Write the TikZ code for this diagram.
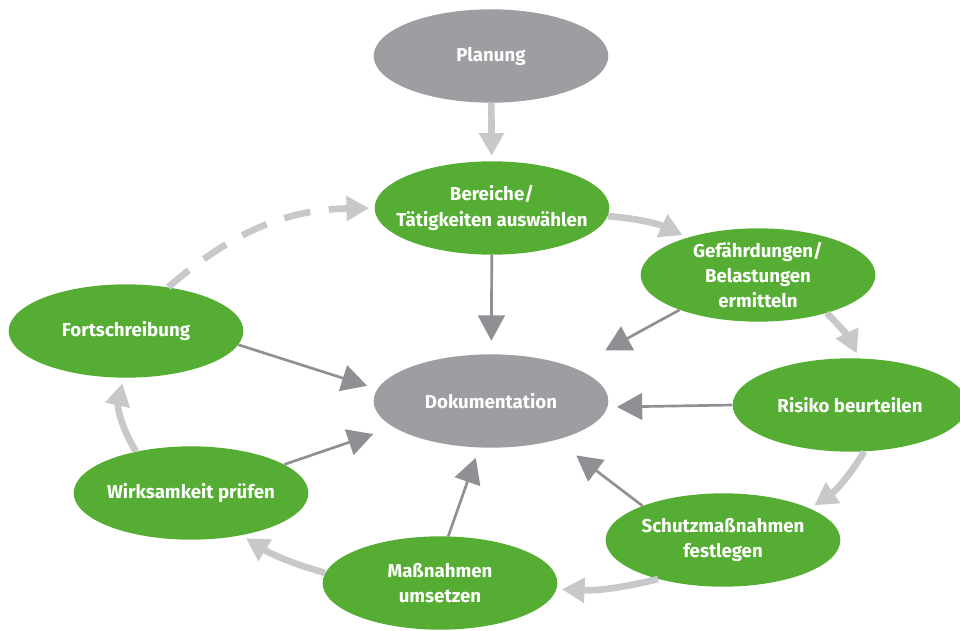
\documentclass[tikz,border=0pt]{standalone}
\usepackage{fontspec}
\setmainfont{Fira Sans}
\usetikzlibrary{shapes.geometric,arrows.meta}
\definecolor{stepgreen}{HTML}{55AE33}
\definecolor{coregray}{HTML}{9D9EA1}
\definecolor{flowgray}{HTML}{C7C8CA}
\definecolor{docgray}{HTML}{8F9094}

\begin{document}
\begin{tikzpicture}[x=0.75pt,y=-0.75pt,
  every node/.style={font=\bfseries\fontsize{14}{19}\selectfont, text=white, align=center},
  blob/.style={ellipse, minimum width=176pt, minimum height=70pt, inner sep=-20pt, fill=stepgreen},
  core/.style={blob, fill=coregray},
  flow/.style={line width=5pt, color=flowgray, -{Triangle[length=17pt,width=18pt]}, shorten >=4pt},
  docarrow/.style={line width=2pt, color=docgray, -{Triangle[length=19pt,width=20pt]}}]
%\draw[help lines] (0,0) grid[step=50] (960,631);
\useasboundingbox (0,0) rectangle (960,631);

\node[core] (plan)     at (491,56)  {Planung};
\node[blob] (bereiche) at (492,208) {Bereiche/\\Tätigkeiten auswählen};
\node[blob] (gef)      at (758,275) {Gefährdungen/\\Belastungen\\ermitteln};
\node[blob] (fort)     at (126,331) {Fortschreibung};
\node[core] (doku)     at (491,401) {Dokumentation};
\node[blob] (risiko)   at (850,405) {Risiko beurteilen};
\node[blob] (wirk)     at (191,493) {Wirksamkeit prüfen};
\node[blob] (schutz)   at (723,540) {Schutzmaßnahmen\\festlegen};
\node[blob] (mass)     at (440,583) {Maßnahmen\\umsetzen};

% cycle
\draw[flow] (plan) -- (bereiche);
\draw[flow] (bereiche.-4) to[bend left=10] (gef.152);
\draw[flow] (gef.-29) to[bend left=10] (risiko.79);
\draw[flow] (risiko.-73) to[bend left=12] (schutz.20);
\draw[flow] (schutz.-149) to[bend left=8] (mass.-3);
\draw[flow] (mass.175) to[bend left=8] (wirk.-40);
\draw[flow] (wirk.143) to[bend left=22] (fort.-93);
\draw[flow, dash pattern=on 20pt off 14pt] (fort.46) to[bend left=20] (bereiche.180);

% into the documentation
\draw[docarrow, shorten >=10pt] (bereiche) -- (doku);
\draw[docarrow, shorten >=27pt] (gef.-156) -- (doku.22);
\draw[docarrow, shorten >=7pt] (risiko.180) -- (doku.-3);
\draw[docarrow, shorten >=8pt] (fort.-7) -- (doku.174);
\draw[docarrow, shorten >=16pt] (wirk.17) -- (doku.-165);
\draw[docarrow, shorten >=8pt] (mass.80) -- (doku.-104);
\draw[docarrow, shorten >=19pt] (schutz.157) -- (doku.-31);
\end{tikzpicture}
\end{document}
